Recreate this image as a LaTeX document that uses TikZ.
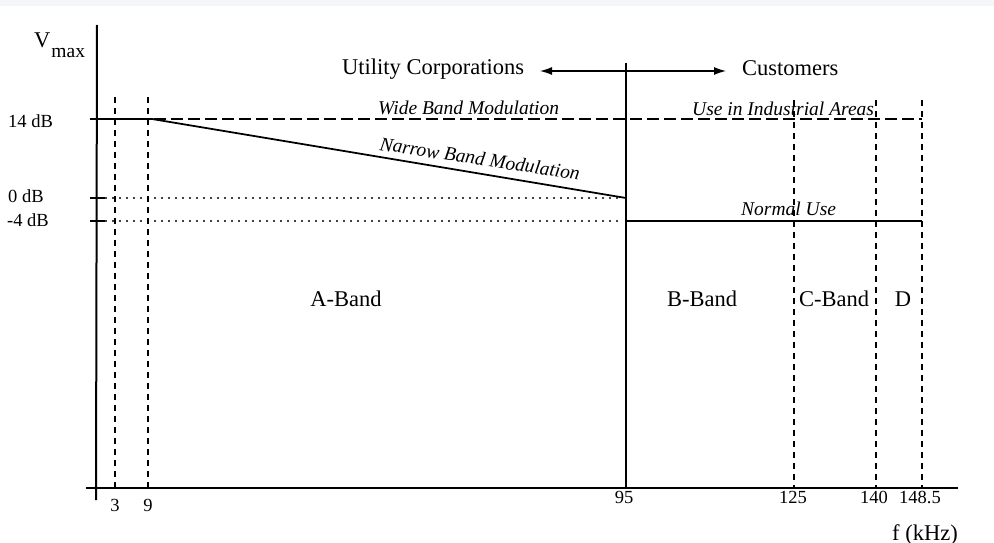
\documentclass[tikz,border=0pt]{standalone}
\usepackage{fontspec}
\setmainfont{Liberation Serif}
\usetikzlibrary{arrows.meta}
\definecolor{stripgrey}{RGB}{244,246,250}
\begin{document}
\begin{tikzpicture}[x=1pt,y=-1pt,
  lbl/.style={inner sep=0pt, font=\fontsize{22.5}{25}\selectfont},
  ital/.style={inner sep=0pt, font=\fontsize{19.5}{22}\selectfont\itshape},
  num/.style={inner sep=0pt, font=\fontsize{18.5}{20}\selectfont},
  axisline/.style={line width=2pt},
  vdash/.style={line width=1.4pt, dash pattern=on 6pt off 5pt},
  wdash/.style={line width=1.6pt, dash pattern=on 12pt off 5pt},
  dotline/.style={line width=2.2pt, line cap=round, dash pattern=on 0pt off 7pt},
  solidline/.style={line width=1.8pt},
  tickline/.style={line width=1.6pt}]
\useasboundingbox (0,0) rectangle (994,543);
\fill[stripgrey] (0,0) rectangle (994,6);

% key coordinates
\coordinate (ytop) at (97,25);
\coordinate (ybot) at (96,500);
\coordinate (xleft) at (86,488);
\coordinate (xright) at (958,488);

% axes
\draw[axisline] (ytop) -- (ybot);
\draw[axisline] (xleft) -- (xright);

% y ticks
\foreach \yy/\nm in {119/t14,198/t0,221/tm4}{
  \coordinate (\nm a) at (90,\yy);
  \coordinate (\nm b) at (105,\yy);
  \draw[tickline] (\nm a) -- (\nm b);
}

% vertical dashed lines
\foreach \xx/\top/\nm in {115/97/v3,148/97/v9,794/100/v125,876/100/v140,922/100/v148}{
  \coordinate (\nm t) at (\xx,\top);
  \coordinate (\nm b) at (\xx,488);
  \draw[vdash] (\nm t) -- (\nm b);
}

% 95 kHz solid line
\coordinate (v95t) at (626,63);
\coordinate (v95b) at (626,488);
\draw[line width=1.3pt] (v95t) -- (v95b);

% wide band dashed
\coordinate (wbl) at (103,119);
\coordinate (wbr) at (922,119);
\draw[wdash] (wbl) -- (wbr);

% narrow band solid
\coordinate (nb1) at (115,119);
\coordinate (nb2) at (152,119);
\coordinate (nb3) at (626,198);
\draw[solidline] (nb1) -- (nb2) -- (nb3);

% normal use solid
\coordinate (nu1) at (626,221);
\coordinate (nu2) at (922,221);
\draw[solidline] (nu1) -- (nu2);

% dotted
\coordinate (d0l) at (106,198);
\coordinate (d0r) at (622,198);
\coordinate (d4l) at (106,221);
\coordinate (d4r) at (622,221);
\draw[dotline] (d0l) -- (d0r);
\draw[dotline] (d4l) -- (d4r);

% double arrow
\coordinate (arl) at (540,71);
\coordinate (arr) at (726,71);
\draw[line width=1.2pt, {Latex[length=12pt,width=8pt]}-{Latex[length=12pt,width=8pt]}] (arl) -- (arr);

% texts
\node[lbl, anchor=base west] (vmax) at (34,48) {V\kern1pt\raisebox{-10pt}{\fontsize{19.5}{20}\selectfont max}};
\node[num, anchor=base west] (l14) at (8,128) {14 dB};
\node[num, anchor=base west] (l0) at (8,202) {0 dB};
\node[num, anchor=base west] (lm4) at (7,226) {-4 dB};

\node[lbl, anchor=base west] (util) at (342,75) {Utility Corporations};
\node[lbl, anchor=base west] (cust) at (742,76) {Customers};

\node[ital, anchor=base west] (wide) at (378,114) {Wide Band Modulation};
\node[ital, anchor=base west] (indus) at (692,115) {Use in Industrial Areas};
\node[ital, anchor=base west] (normal) at (741,215) {Normal Use};
\node[ital, anchor=base west, rotate=-8.6] (narrow) at (379,150) {Narrow Band Modulation};

\node[lbl, anchor=base] (aband) at (346,306) {A-Band};
\node[lbl, anchor=base] (bband) at (702,306) {B-Band};
\node[lbl, anchor=base] (cband) at (834,306) {C-Band};
\node[lbl, anchor=base] (dband) at (903,306) {D};

\node[num, anchor=base] (n3) at (115,511) {3};
\node[num, anchor=base] (n9) at (148,511) {9};
\node[num, anchor=base] (n95) at (624,503) {95};
\node[num, anchor=base] (n125) at (793,503) {125};
\node[num, anchor=base] (n140) at (874,503) {140};
\node[num, anchor=base] (n148) at (920,503) {148.5};
\node[lbl, anchor=base east] (fk) at (958,540) {f (kHz)};
\end{tikzpicture}
\end{document}
